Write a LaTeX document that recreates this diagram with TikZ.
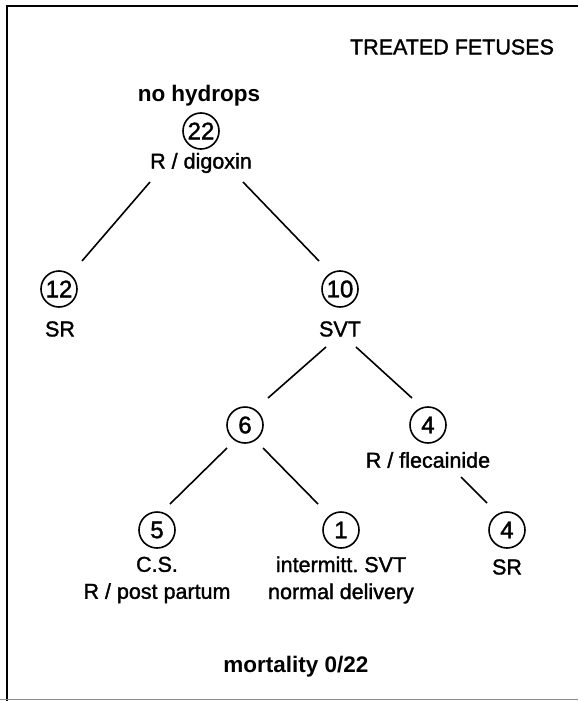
\documentclass[tikz,border=0pt]{standalone}
\usepackage{fontspec}
\setmainfont{Liberation Sans}
\newfontfamily\regfont{Liberation Sans}[FakeBold=1.5]
\frenchspacing
\begin{document}
\begin{tikzpicture}[x=1pt,y=-1pt,
  every node/.style={inner sep=0pt},
  txt/.style={font=\regfont\fontsize{21.5}{27}\selectfont, align=center},
  bold/.style={font=\fontsize{22.5}{27}\selectfont\bfseries, align=center},
  num/.style={circle, draw, line width=1.6pt, minimum size=36pt, font=\regfont\fontsize{24}{24}\selectfont},
  edge/.style={line width=1.6pt},
  frame/.style={line width=2.2pt}]
\useasboundingbox (0,0) rectangle (578,701);
% frame
\draw[frame] (7,701) -- (7,6) -- (578,6);
\draw[line width=1pt, black!45] (0,699) -- (578,699);

\node[txt] (title) at (452,47) {TREATED FETUSES};
\node[bold] (nohyd) at (199,96) {no hydrops};
\node[num] (c22) at (201,131) {22};
\node[txt] (dig) at (201,163) {R / digoxin};

\node[num] (c12) at (59,289) {12};
\node[txt] (sr1) at (60,329) {SR};
\node[num] (c10) at (340,289) {10};
\node[txt] (svt) at (340,329) {SVT};

\node[num] (c6) at (245,425) {6};
\node[num] (c4) at (428,425) {4};
\node[txt] (flec) at (428,460) {R / flecainide};

\node[num] (c5) at (157,530) {5};
\node[txt] (cs) at (157,580) {C.S.\\R / post partum};
\node[num] (c1) at (341,530) {1};
\node[txt] (nd) at (341,580) {intermitt. SVT\\normal delivery};
\node[num] (c4b) at (507,530) {4};
\node[txt] (sr2) at (507,567) {SR};

\node[bold] (mort) at (296,667) {mortality 0/22};

\draw[edge] ([shift={(-51,19)}]dig.center) -- ([shift={(23,-28)}]c12.center);
\draw[edge] ([shift={(42,19)}]dig.center) -- ([shift={(-21,-28)}]c10.center);
\draw[edge] ([shift={(-14,18)}]svt.center) -- ([shift={(23,-27)}]c6.center);
\draw[edge] ([shift={(16,18)}]svt.center) -- ([shift={(-16,-27)}]c4.center);
\draw[edge] ([shift={(-18,23)}]c6.center) -- ([shift={(13,-26)}]c5.center);
\draw[edge] ([shift={(18,23)}]c6.center) -- ([shift={(-23,-26)}]c1.center);
\draw[edge] ([shift={(33,17)}]flec.center) -- ([shift={(-20,-27)}]c4b.center);
\end{tikzpicture}
\end{document}
